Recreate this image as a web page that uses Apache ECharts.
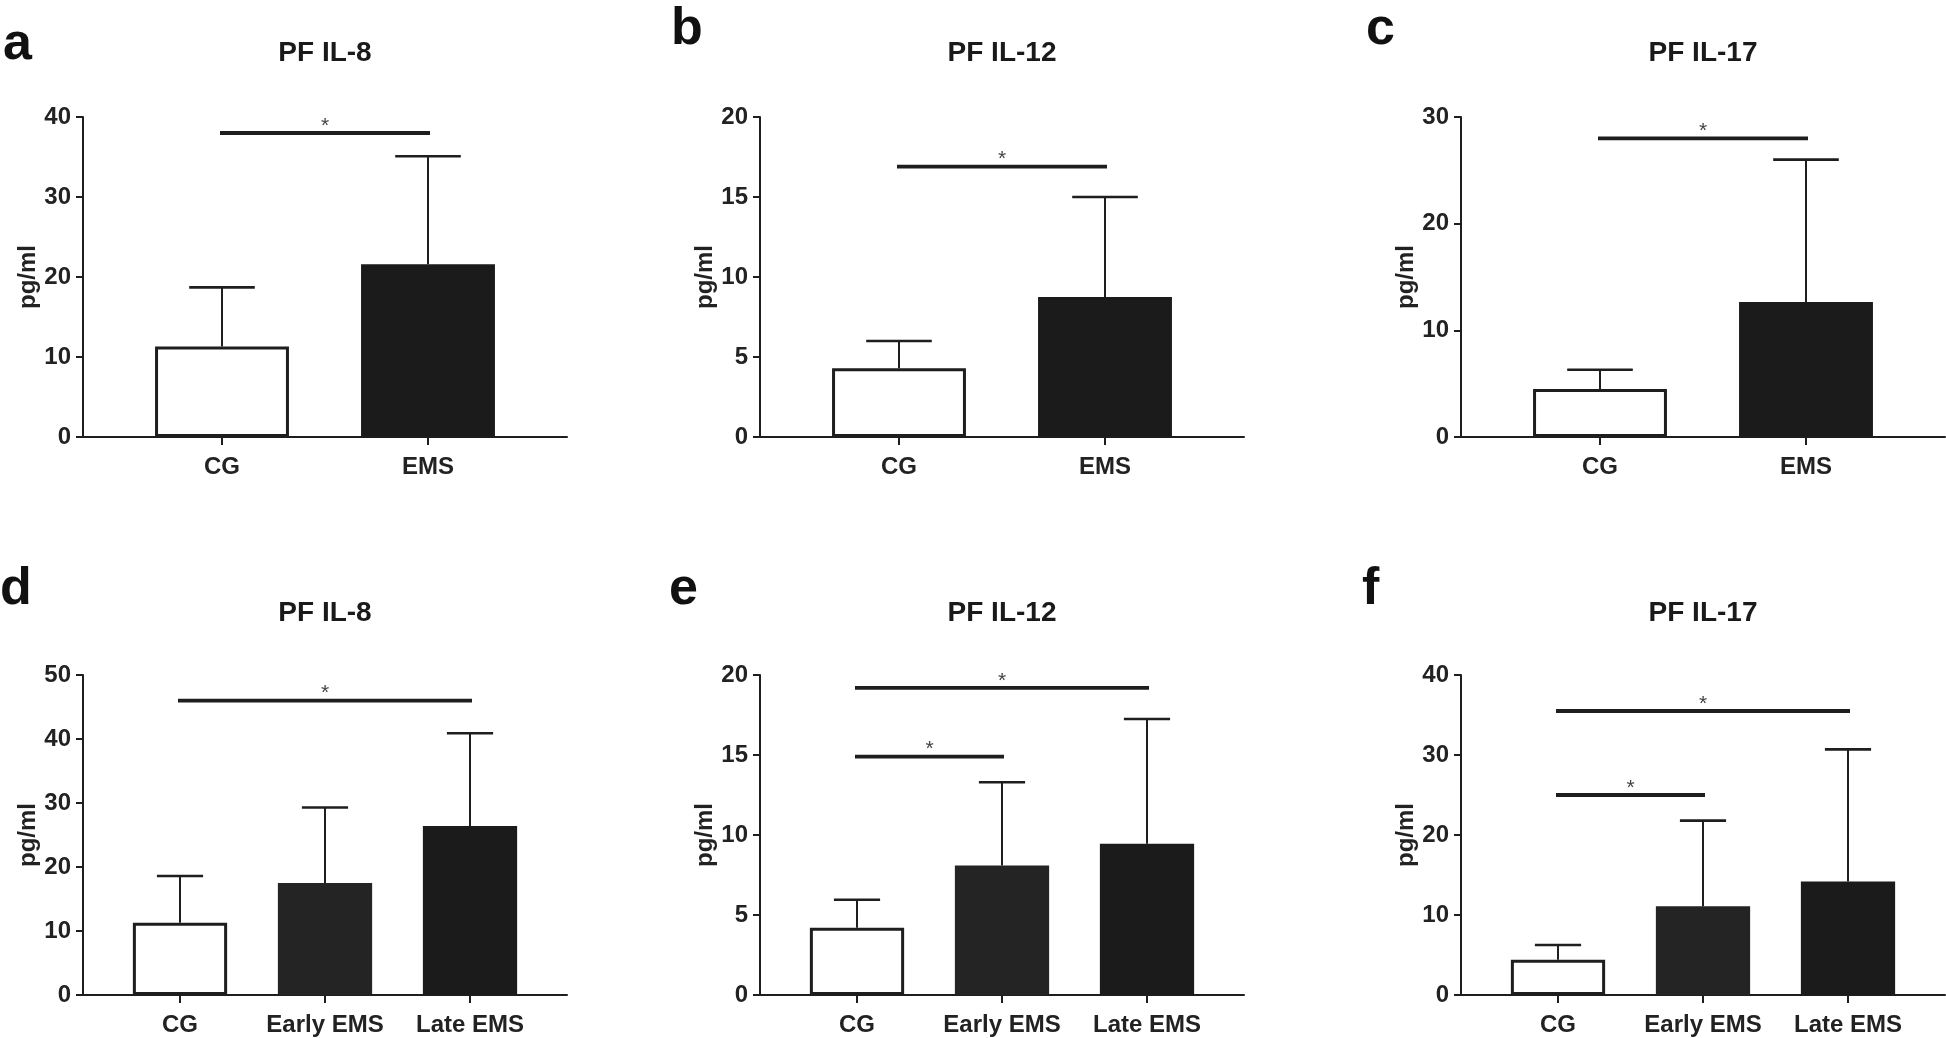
<!DOCTYPE html>
<html>
<head>
<meta charset="utf-8">
<script src="https://cdn.jsdelivr.net/npm/echarts@6/dist/echarts.min.js"></script>
<style>
html,body{margin:0;padding:0;background:#fff;}
#chart{width:1946px;height:1038px;}
</style>
</head>
<body>
<div id="chart"></div>
<script>
// ---- data ----
const groups2 = ['CG', 'EMS'];
const groups3 = ['CG', 'Early EMS', 'Late EMS'];

const il8Mean2 = [11.3, 21.6];
const il8Upper2 = [18.7, 35.1];
const il12Mean2 = [4.3, 8.75];
const il12Upper2 = [6.0, 15.0];
const il17Mean2 = [4.5, 12.65];
const il17Upper2 = [6.3, 26.0];

const il8Mean3 = [11.3, 17.5, 26.4];
const il8Upper3 = [18.6, 29.3, 40.9];
const il12Mean3 = [4.2, 8.1, 9.45];
const il12Upper3 = [5.95, 13.3, 17.25];
const il17Mean3 = [4.4, 11.1, 14.2];
const il17Upper3 = [6.25, 21.8, 30.7];

// significance brackets: [fromIndex, toIndex, level]
const sigA = [[0, 1, 38]];
const sigB = [[0, 1, 16.9]];
const sigC = [[0, 1, 28]];
const sigD = [[0, 2, 46]];
const sigE = [[0, 2, 19.2], [0, 1, 14.9]];
const sigF = [[0, 2, 35.5], [0, 1, 25]];

const yMaxes = [40, 20, 30, 50, 20, 40];
const yTicks = [10, 5, 10, 10, 5, 10];
const panelTitles = ['PF IL-8', 'PF IL-12', 'PF IL-17', 'PF IL-8', 'PF IL-12', 'PF IL-17'];
const panelLetters = ['a', 'b', 'c', 'd', 'e', 'f'];
const yName = 'pg/ml';

// ---- layout (not data) ----
const FONT = '"Liberation Sans", Arial, Helvetica, sans-serif';
const INK = '#1e1e1e';
const layout = [
  {x: 83,   y: 117, inset: 36,   lx: 3,    ly: 45, ty: 53},
  {x: 760,  y: 117, inset: 36,   lx: 671,  ly: 30, ty: 53},
  {x: 1461, y: 117, inset: 36,   lx: 1366, ly: 30, ty: 53},
  {x: 83,   y: 675, inset: 24.5, lx: 0,    ly: 590, ty: 613},
  {x: 760,  y: 675, inset: 24.5, lx: 669,  ly: 590, ty: 613},
  {x: 1461, y: 675, inset: 24.5, lx: 1362, ly: 590, ty: 613}
];
const AXW = 484, AXH = 320;

const panels = [
  {cats: groups2, mean: il8Mean2,  upper: il8Upper2,  sig: sigA},
  {cats: groups2, mean: il12Mean2, upper: il12Upper2, sig: sigB},
  {cats: groups2, mean: il17Mean2, upper: il17Upper2, sig: sigC},
  {cats: groups3, mean: il8Mean3,  upper: il8Upper3,  sig: sigD},
  {cats: groups3, mean: il12Mean3, upper: il12Upper3, sig: sigE},
  {cats: groups3, mean: il17Mean3, upper: il17Upper3, sig: sigF}
];

const BAR_FRAC = 0.65;

function barStyle(idx, n) {
  if (idx === 0) return {color: '#ffffff', borderColor: INK, borderWidth: 3};
  const c = (n === 3 && idx === 1) ? '#242424' : '#1b1b1b';
  return {color: c, borderColor: c, borderWidth: 3};
}

function renderErr(params, api) {
  const xi = api.value(0), m = api.value(1), u = api.value(2);
  const p0 = api.coord([xi, m]);
  const p1 = api.coord([xi, u]);
  const bw = api.size([1, 0])[0] * BAR_FRAC;
  const half = bw * 0.245;
  return {
    type: 'group',
    children: [
      {type: 'line', shape: {x1: p0[0], y1: p0[1], x2: p1[0], y2: p1[1]}, style: {stroke: INK, lineWidth: 2}},
      {type: 'line', shape: {x1: p1[0] - half, y1: p1[1], x2: p1[0] + half, y2: p1[1]}, style: {stroke: INK, lineWidth: 2.6}}
    ]
  };
}

function renderSig(params, api) {
  const a = api.coord([api.value(0), api.value(2)]);
  const b = api.coord([api.value(1), api.value(2)]);
  const mx = (a[0] + b[0]) / 2;
  return {
    type: 'group',
    children: [
      {type: 'line', shape: {x1: a[0] - 2, y1: a[1], x2: b[0] + 2, y2: b[1]}, style: {stroke: INK, lineWidth: 3.8}},
      {type: 'text', style: {text: '*', x: mx, y: a[1] - 7, align: 'center', verticalAlign: 'middle',
        font: '21px ' + FONT, fill: '#444'}}
    ]
  };
}

const grid = [], xAxis = [], yAxis = [], series = [], graphic = [];
const axisLineStyle = {color: INK, width: 2};

panels.forEach((p, i) => {
  const L = layout[i];
  const n = p.cats.length;
  grid.push({left: L.x, top: L.y, width: AXW, height: AXH, containLabel: false});
  grid.push({left: L.x + L.inset, top: L.y, width: AXW - 2 * L.inset, height: AXH, containLabel: false});
  const go = 2 * i, gi = 2 * i + 1;

  xAxis.push({type: 'value', gridIndex: go, min: 0, max: 1,
    axisLine: {show: true, onZero: false, lineStyle: axisLineStyle},
    axisTick: {show: false}, axisLabel: {show: false}, splitLine: {show: false}});
  xAxis.push({type: 'category', gridIndex: gi, data: p.cats,
    axisLine: {show: false},
    axisTick: {show: true, alignWithLabel: true, length: 8, lineStyle: {color: INK, width: 2}},
    axisLabel: {interval: 0, margin: 18, fontSize: 24, fontWeight: 'bold', color: '#222', fontFamily: FONT},
    splitLine: {show: false}});

  yAxis.push({type: 'value', gridIndex: go, min: 0, max: yMaxes[i], interval: yTicks[i],
    axisLine: {show: true, lineStyle: axisLineStyle},
    axisTick: {show: true, inside: false, length: 7, lineStyle: {color: INK, width: 2}},
    axisLabel: {margin: 12, fontSize: 24, fontWeight: 'bold', color: '#222', fontFamily: FONT},
    splitLine: {show: false},
    name: yName, nameLocation: 'middle', nameGap: 42, nameRotate: 90,
    nameTextStyle: {fontSize: 24, fontWeight: 'bold', color: '#222', fontFamily: FONT}});
  yAxis.push({type: 'value', gridIndex: gi, min: 0, max: yMaxes[i], show: false});

  series.push({
    type: 'bar', xAxisIndex: 2 * i + 1, yAxisIndex: 2 * i + 1,
    barWidth: (BAR_FRAC * 100) + '%',
    data: p.mean.map((v, k) => ({value: v, itemStyle: barStyle(k, n)})),
    silent: true, z: 2
  });
  series.push({
    type: 'custom', xAxisIndex: 2 * i + 1, yAxisIndex: 2 * i + 1,
    data: p.mean.map((v, k) => [k, v, p.upper[k]]),
    renderItem: renderErr, silent: true, z: 3, clip: false
  });
  series.push({
    type: 'custom', xAxisIndex: 2 * i + 1, yAxisIndex: 2 * i + 1,
    data: p.sig,
    renderItem: renderSig, silent: true, z: 4, clip: false
  });

  graphic.push({type: 'text', x: L.x + AXW / 2, y: L.ty,
    style: {text: panelTitles[i], font: 'bold 28px ' + FONT, fill: '#1a1a1a', align: 'center', verticalAlign: 'middle'}});
  graphic.push({type: 'text', x: L.lx, y: L.ly,
    style: {text: panelLetters[i], font: 'bold 52px ' + FONT, fill: '#111', align: 'left', verticalAlign: 'middle'}});
});

const chart = echarts.init(document.getElementById('chart'), null, {renderer: 'canvas'});
chart.setOption({
  backgroundColor: '#ffffff',
  animation: false,
  grid, xAxis, yAxis, series, graphic
});
</script>
</body>
</html>
